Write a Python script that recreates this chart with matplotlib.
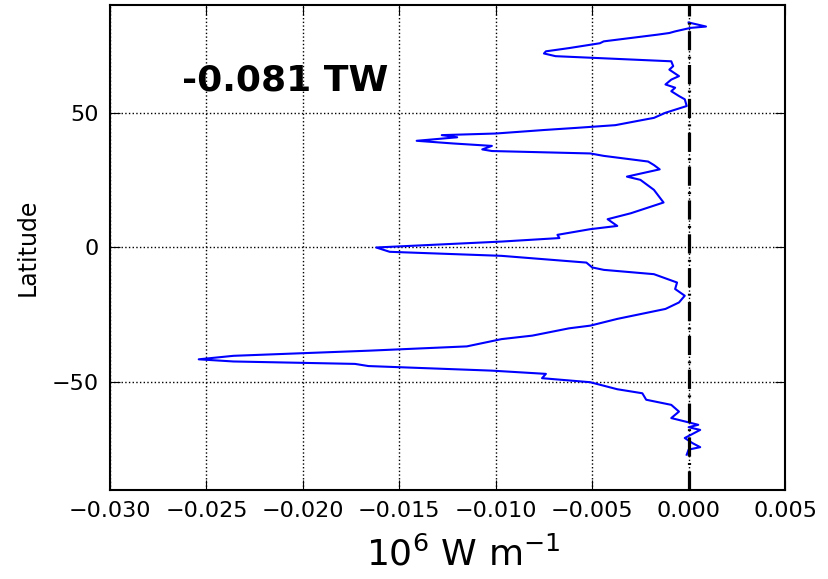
import matplotlib
matplotlib.use('Agg')
import matplotlib.pyplot as plt

# latitude (deg) and transport (10^6 W m-1), north to south
lat = [83.5, 82.0, 81.5, 80.2, 79.6, 79.0, 76.5, 75.8, 74.0, 72.8, 72.0, 71.0,
       69.1, 67.3, 66.0, 63.6, 62.3, 60.5, 59.3, 58.0, 56.2, 55.0, 52.5, 50.0,
       48.1, 47.3, 45.4, 44.4, 43.6, 42.3, 41.7, 40.9, 39.6, 38.6, 37.7, 36.4,
       35.8, 34.9, 34.0, 31.9, 30.6, 29.0, 26.3, 25.1, 21.4, 16.7, 12.7, 10.5,
       8.0, 6.8, 4.7, 3.5, 2.2, 0.0, -1.6, -3.1, -5.6, -7.4, -8.3, -9.9, -13.0,
       -15.4, -17.9, -20.4, -22.8, -26.5, -29.0, -30.0, -32.7, -34.0, -36.7,
       -38.3, -40.2, -41.5, -42.3, -43.2, -44.0, -45.7, -46.9, -48.5, -50.0,
       -52.6, -54.1, -56.5, -58.4, -60.9, -63.3, -64.9, -65.8, -66.7, -67.7,
       -70.7, -72.6, -74.1, -75.0, -76.9]
flux = [0.0, 0.0009, 0.0001, -0.0007, -0.001, -0.0016, -0.0044, -0.0046, -0.0062,
        -0.0074, -0.0075, -0.0069, -0.0009, -0.0008, -0.0010, -0.0005, -0.0009,
        -0.0012, -0.0007, -0.0009, -0.0005, -0.0002, -0.0001, -0.0012, -0.0018,
        -0.0024, -0.0038, -0.0058, -0.0075, -0.0100, -0.0128, -0.0120, -0.0141,
        -0.0122, -0.0102, -0.0107, -0.0102, -0.0051, -0.0044, -0.0021, -0.0018,
        -0.0015, -0.0032, -0.0025, -0.0018, -0.0013, -0.0030, -0.0042, -0.0037,
        -0.0051, -0.0068, -0.0067, -0.0097, -0.0162, -0.0155, -0.0097, -0.0053,
        -0.0050, -0.0044, -0.0018, -0.0006, -0.0007, -0.0002, -0.0005, -0.0012,
        -0.0037, -0.0051, -0.0062, -0.0081, -0.0097, -0.0115, -0.0166, -0.0236,
        -0.0254, -0.0236, -0.0173, -0.0166, -0.0102, -0.0074, -0.0076, -0.0051,
        -0.0037, -0.0024, -0.0022, -0.0009, -0.0005, -0.0009, 0.0, 0.0005, 0.0,
        0.0006, -0.0002, 0.0002, 0.0006, 0.0, -0.0001]

total = '-0.081 TW'

fig = plt.figure(figsize=(8.29, 5.79), dpi=100)
ax = fig.add_axes([0.1327, 0.1537, 0.8143, 0.8377])

ax.plot(flux, lat, color='blue', lw=1.5)
ax.axvline(0, color='black', ls=(0, (6, 2, 0.6, 2)), lw=2.3)

ax.set_xlim(-0.030, 0.005)
ax.set_ylim(-90, 90)
ax.set_xticks([-0.030, -0.025, -0.020, -0.015, -0.010, -0.005, 0.000, 0.005])
ax.set_xticklabels(['\u22120.030', '\u22120.025', '\u22120.020', '\u22120.015',
                    '\u22120.010', '\u22120.005', '0.000', '0.005'])
ax.set_yticks([-50, 0, 50])
ax.set_yticklabels(['\u221250', '0', '50'])
ax.tick_params(direction='in', top=True, right=True, labelsize=16, length=7, pad=8)
ax.grid(True, color='black', ls=':', lw=1)
for s in ax.spines.values():
    s.set_linewidth(1.5)

ax.set_ylabel('Latitude', fontsize=17)
ax.yaxis.set_label_coords(-0.105, 0.5)
ax.set_xlabel(r'10$^6$ W m$^{-1}$', fontsize=26)
ax.xaxis.set_label_coords(0.524, -0.095)
ax.text(-0.0209, 62, total, fontsize=26, fontweight='bold', ha='center', va='center')

fig.savefig('out.png', dpi=100)
